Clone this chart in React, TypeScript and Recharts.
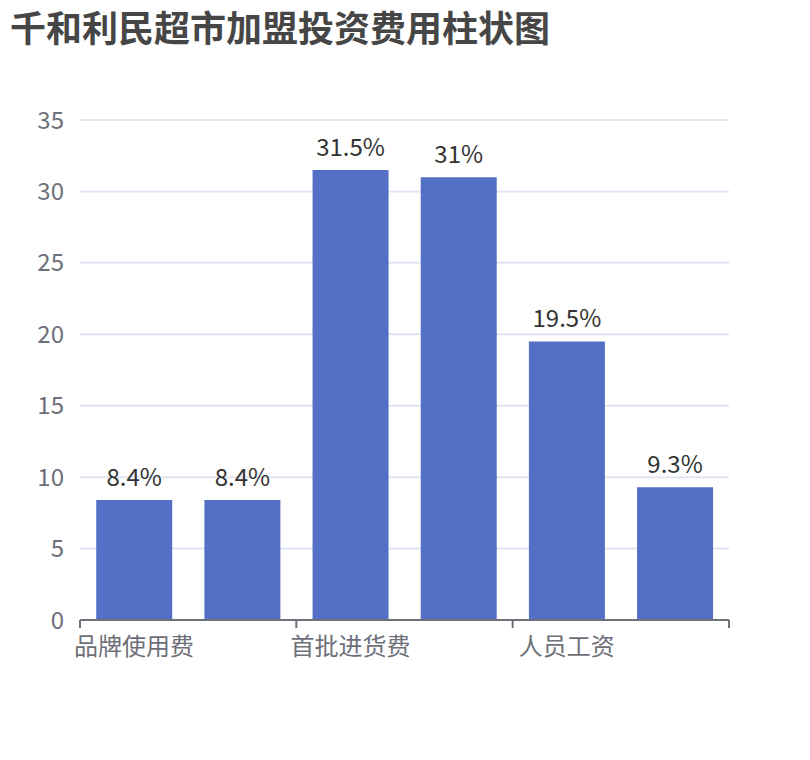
import React from 'react';
import {
    BarChart,
    Bar,
    XAxis,
    YAxis,
    CartesianGrid,
    LabelList,
} from 'recharts';

// categories (only every other name is shown on the axis, like the original)
const categories = ['品牌使用费', '履约保证金', '首批进货费', '店面装修费', '人员工资', '其他费用'];
const shares = [8.4, 8.4, 31.5, 31, 19.5, 9.3];
const yTicks = [0, 5, 10, 15, 20, 25, 30, 35];

const chartData = categories.map((name, i) => ({ name, value: shares[i] }));

const FONT = '"Noto Sans CJK SC", "Noto Sans", sans-serif';
const AXIS_COLOR = '#6e7079';

// x tick: label on even categories, tick marks on band boundaries every 2 categories
function CategoryTick(props: any) {
    const { x, y, payload, index, width } = props;
    const half = payload?.offset || width / categories.length / 2;
    const last = index === categories.length - 1;
    return (
        <g>
            {index % 2 === 0 && (
                <line x1={x - half} x2={x - half} y1={y} y2={y + 8} stroke={AXIS_COLOR} strokeWidth={2} />
            )}
            {last && (
                <line x1={x + half} x2={x + half} y1={y} y2={y + 8} stroke={AXIS_COLOR} strokeWidth={2} />
            )}
            {index % 2 === 0 && (
                <text x={x} y={y + 35} textAnchor="middle" fill={AXIS_COLOR} fontSize={24} fontFamily={FONT}>
                    {payload.value}
                </text>
            )}
        </g>
    );
}

export default function App() {
    return (
        <div style={{ position: 'absolute', left: 0, top: 0, width: 810, height: 760, background: '#fff', fontFamily: FONT }}>
            <div
                style={{
                    position: 'absolute',
                    left: 10,
                    top: 8,
                    fontSize: 36,
                    lineHeight: '36px',
                    fontWeight: 'bold',
                    color: '#464646',
                    whiteSpace: 'nowrap',
                }}
            >
                千和利民超市加盟投资费用柱状图
            </div>
            <BarChart
                width={810}
                height={760}
                data={chartData}
                margin={{ top: 120, right: 81, left: 0, bottom: 100 }}
                barCategoryGap="15%"
            >
                <CartesianGrid vertical={false} stroke="#e0e6f1" strokeWidth={2} />
                <XAxis
                    dataKey="name"
                    interval={0}
                    height={40}
                    tickSize={0}
                    tickMargin={0}
                    tickLine={false}
                    axisLine={{ stroke: AXIS_COLOR, strokeWidth: 2 }}
                    tick={<CategoryTick />}
                />
                <YAxis
                    width={80}
                    domain={[0, 35]}
                    ticks={yTicks}
                    axisLine={false}
                    tickLine={false}
                    tickSize={0}
                    tickMargin={16}
                    tick={{ fill: AXIS_COLOR, fontSize: 24, fontFamily: FONT }}
                />
                <Bar dataKey="value" fill="#5470c6" isAnimationActive={false}>
                    <LabelList
                        dataKey="value"
                        position="top"
                        offset={14}
                        formatter={(v: any) => `${v}%`}
                        fill="#333"
                        fontSize={24}
                        fontFamily={FONT}
                    />
                </Bar>
            </BarChart>
        </div>
    );
}
